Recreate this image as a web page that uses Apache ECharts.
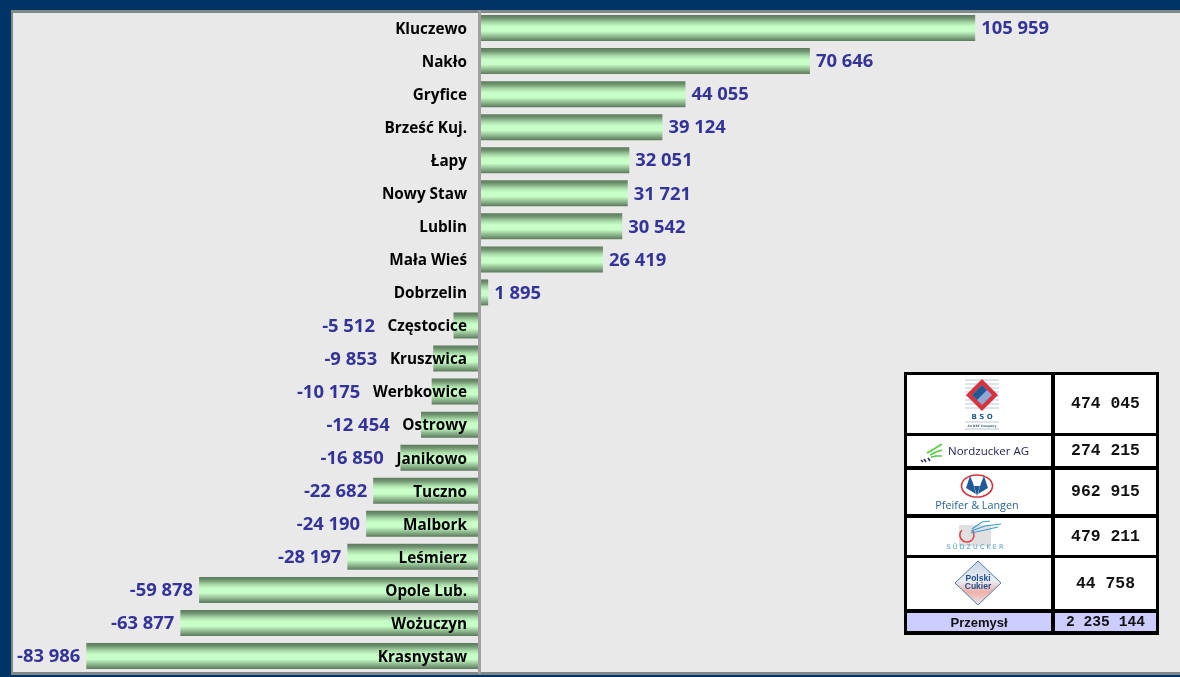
<!DOCTYPE html>
<html><head><meta charset="utf-8">
<style>html,body{margin:0;padding:0;background:#003366;overflow:hidden}
#frame{position:absolute;left:11px;top:10px;width:1169px;height:665px;background:#808888}
#panel{position:absolute;left:13px;top:13px;width:1167px;height:659px;background:#e9e9e9}
#c{position:absolute;left:0;top:0;width:1180px;height:677px}</style>
<script src="https://cdn.jsdelivr.net/npm/echarts@6/dist/echarts.min.js"></script>
</head><body><div id="frame"></div><div id="panel"></div><div id="c"></div>
<script>
const categories = ['Kluczewo','Nakło','Gryfice','Brześć Kuj.','Łapy','Nowy Staw','Lublin','Mała Wieś','Dobrzelin','Częstocice','Kruszwica','Werbkowice','Ostrowy','Janikowo','Tuczno','Malbork','Leśmierz','Opole Lub.','Wożuczyn','Krasnystaw'];
const values = [105959,70646,44055,39124,32051,31721,30542,26419,1895,-5512,-9853,-10175,-12454,-16850,-22682,-24190,-28197,-59878,-63877,-83986];
const tableValues = ['474 045','274 215','962 915','479 211','44 758'];
const totalLabel = 'Przemysł';
const totalValue = '2 235 144';

const fmt = v => { const s = String(Math.abs(v)).replace(/\B(?=(\d{3})+$)/g,' '); return (v<0?'-':'')+s; };
const barGrad = new echarts.graphic.LinearGradient(0,0,0,1,[
  {offset:0,color:'#5c7a5c'},{offset:0.12,color:'#6f926f'},{offset:0.3,color:'#a9dba9'},
  {offset:0.45,color:'#c8ffc8'},{offset:0.62,color:'#c8ffc8'},{offset:0.8,color:'#94bf94'},{offset:1,color:'#5c7a5c'}]);

const g = [];
const rect=(x,y,w,h,fill,z)=>g.push({type:'rect',silent:true,z:z||10,shape:{x,y,width:w,height:h},style:{fill}});
const txt=(x,y,t,font,fill,align)=>g.push({type:'text',silent:true,z:14,x,y,style:{text:t,font,fill,align:align||'center',verticalAlign:'middle'}});
const poly=(pts,fill,stroke,lw)=>g.push({type:'polygon',silent:true,z:12,shape:{points:pts},style:{fill:fill||'none',stroke:stroke||'none',lineWidth:lw||1}});
const line=(pts,stroke,lw)=>g.push({type:'polyline',silent:true,z:12,shape:{points:pts},style:{fill:'none',stroke,lineWidth:lw||1}});

// side table
rect(904,372,255,263,'#000000');
const rows=[[375,58],[436,30],[470,44],[518,37],[558,51]];
rows.forEach((r,i)=>{
  rect(907,r[0],144,r[1],'#ffffff');
  rect(1055,r[0],101,r[1],'#ffffff');
  txt(1105.5,r[0]+r[1]/2,tableValues[i],'bold 16.4px "Liberation Mono"','#111111');
});
rect(907,613,144,18,'#ccccff');rect(1055,613,101,18,'#ccccff');
txt(979,623,totalLabel,'bold 13px "Liberation Sans"','#111111');
txt(1105.5,622.5,totalValue,'bold 14.6px "Liberation Mono"','#111111');

// BSO logo
[380,384,388,392,396,400,404,408].forEach(y=>line([[965,y],[999,y]],'#b9c7d8',1));
poly([[982,379],[998,395],[982,411],[966,395]],'#d8333d');
poly([[982,385],[992,395],[982,405],[972,395]],'#8fa8d6');
poly([[982,385],[987,390],[977,400],[972,395]],'#1f5a96');
txt(982,417,'B S O','bold 7px "DejaVu Sans"','#1f5a8c');
line([[965,422],[999,422]],'#b9c7d8',1);
txt(982,426,'An RBF Company','bold 3px "DejaVu Sans"','#406080');
line([[965,429],[999,429]],'#b9c7d8',1);

// Nordzucker logo
[[[927,453],[934,449],[942,444]],[[930,455],[936,452],[942,450]],[[931,457],[936,456],[942,456]]].forEach(p=>line(p,'#55cc44',1.6));
line([[921,460],[923,462]],'#333366',1.6);line([[924,459],[926,462]],'#333366',1.6);line([[928,458],[930,461]],'#333366',1.6);
txt(948,451.5,'Nordzucker AG','500 11.5px "Open Sans"','#22265e','left');

// Pfeifer & Langen logo
g.push({type:'ellipse',silent:true,z:12,shape:{cx:977,cy:486,rx:15.5,ry:11},style:{fill:'#fff',stroke:'#d8333d',lineWidth:1.6}});
poly([[970,476],[973,483],[976,494],[966,488]],'#1f5a96');
poly([[984,476],[981,483],[978,494],[988,488]],'#1f5a96');
poly([[974,486],[980,486],[977,496]],'#1f5a96');
txt(977,506,'Pfeifer & Langen','10.8px "Open Sans"','#2a6496');

// Südzucker logo
rect(959,525,32,21,'#e0e0e0',11);
g.push({type:'arc',silent:true,z:12,shape:{cx:967,cy:535,r:7,startAngle:-0.6,endAngle:3.9,clockwise:true},style:{fill:'none',stroke:'#e6393f',lineWidth:1.5}});
line([[972,529],[982,522],[990,521]],'#3b9ad0',1.2);
line([[971,531],[985,526],[1001,524]],'#3b9ad0',1.2);
line([[971,533],[985,530],[998,527]],'#3b9ad0',1.2);
txt(975,547,'S Ü D Z U C K E R','6.5px "DejaVu Sans"','#4a9ccc');

// Polski Cukier logo
g.push({type:'polygon',silent:true,z:12,shape:{points:[[978,561],[1001,583],[978,605],[955,583]]},style:{stroke:'#4f7ea8',lineWidth:1,
  fill:new echarts.graphic.LinearGradient(0,0,0,1,[{offset:0,color:'#c8d4e4'},{offset:.45,color:'#e8eef4'},{offset:.7,color:'#f0b0a8'},{offset:1,color:'#e8e8ee'}])}});
txt(978,579,'Polski','bold 8.5px "Liberation Sans"','#1f4f8c');
txt(978,587,'Cukier','bold 8.5px "Liberation Sans"','#1f4f8c');

const CAT_FONT='bold 15.3px "Open Sans"';
const measure=(()=>{const c=document.createElement('canvas').getContext('2d');return (t,f)=>{c.font=f;return c.measureText(t).width;};})();

const chart=echarts.init(document.getElementById('c'),null,{renderer:'canvas'});
chart.setOption({
  animation:false,
  backgroundColor:'transparent',
  graphic:{elements:g},
  grid:{left:11.3,top:11.5,width:1170,height:661,containLabel:false,outerBoundsMode:'none'},
  xAxis:{type:'value',min:-100000,max:150000,show:false,splitLine:{show:false}},
  yAxis:{type:'category',inverse:true,data:categories,z:6,
    axisLine:{show:true,onZero:true,lineStyle:{color:'#a0a0a0',width:3}},
    axisTick:{show:false},
    axisLabel:{margin:-455.7,color:'#000000',fontFamily:'"Open Sans"',fontWeight:'bold',fontSize:15.3,align:'right',verticalAlign:'top',lineHeight:3,interval:0,hideOverlap:false}},
  series:[{type:'bar',data:values,barWidth:26,z:3,
    itemStyle:{color:barGrad},
    label:{show:true,position:'outside',distance:6,offset:[0,1],formatter:p=>fmt(p.value),color:'#333399',fontFamily:'"Open Sans"',fontWeight:'bold',fontSize:18.4}}]
});
// value labels of short negative bars are pushed left of the category name
const zeroX=chart.convertToPixel({xAxisIndex:0},0);
const labelEndFromCat=zeroX-13;
const items=values.map((v,i)=>{
  if(v>=0) return v;
  const barLeft=chart.convertToPixel({xAxisIndex:0},v);
  const limit=labelEndFromCat-measure(categories[i],CAT_FONT)-12;
  const dx=Math.min(0,limit-(barLeft-6));
  return {value:v,label:{offset:[dx,1]}};
});
chart.setOption({series:[{data:items}]});
</script></body></html>
